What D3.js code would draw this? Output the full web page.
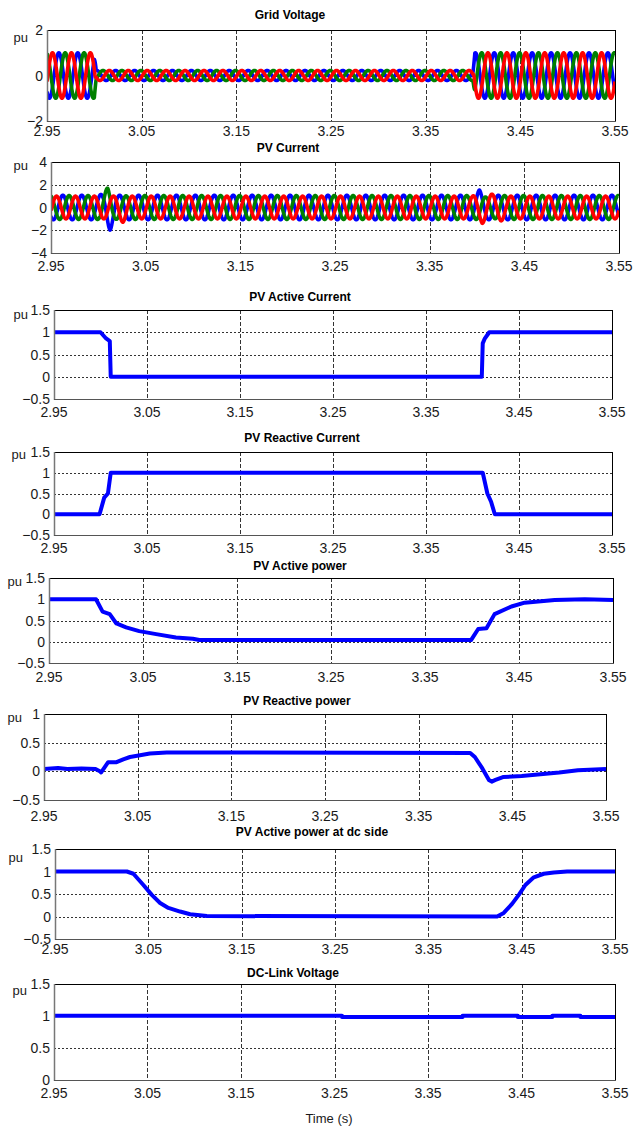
<!DOCTYPE html>
<html>
<head>
<meta charset="utf-8">
<title>PV LVRT response</title>
<script src="https://d3js.org/d3.v7.min.js"></script>
<style>
    body { margin: 0; background: #fff; }
    text { font-family: "Liberation Sans Narrow", "Liberation Sans", Arial, sans-serif; fill: #1a1a1a; }
    .tick-label { font-size: 14px; }
    .pu-label { font-size: 13px; }
    .title { font-size: 12px; font-weight: bold; fill: #000; }
</style>
</head>
<body>
<svg id="chart" width="641" height="1128"></svg>
<script>
// ---- data ----
const timeTicks = [2.95, 3.05, 3.15, 3.25, 3.35, 3.45, 3.55];
const freqHz = 50;
const phaseRad = [Math.PI / 4, -5 * Math.PI / 12, 11 * Math.PI / 12]; // a, b, c
const phaseColors = ["#0000ff", "#008000", "#ff0000"];

// grid voltage amplitude envelope (same for the three phases)
const gridVoltT   = [2.95, 3.000, 3.002, 3.400, 3.402, 3.55];
const gridVoltAmp = [1.0, 1.0, 0.22, 0.22, 1.0, 1.0];

// PV current amplitude envelope per phase
const pvCurT    = [2.95, 3.000, 3.005, 3.010, 3.0125, 3.016, 3.021, 3.026, 3.032, 3.395, 3.4025, 3.4055, 3.410, 3.420, 3.425, 3.430, 3.55];
const pvCurAmpA = [1.08, 1.08, 1.2, 1.8, 2.0, 1.5, 1.08, 1.08, 1.08, 1.08, 1.55, 1.3, 1.08, 1.08, 1.08, 1.08, 1.08];
const pvCurAmpB = [1.05, 1.05, 1.3, 1.75, 1.5, 1.1, 1.0, 1.0, 1.05, 1.05, 1.05, 1.0, 0.9, 1.0, 1.05, 1.05, 1.05];
const pvCurAmpC = [1.0, 1.0, 1.0, 1.0, 1.0, 1.0, 1.15, 1.3, 1.0, 1.0, 1.2, 1.4, 1.2, 1.15, 1.2, 1.0, 1.0];

const activeCurT = [2.95, 3.000, 3.006, 3.010, 3.011, 3.410, 3.411, 3.413, 3.418, 3.55];
const activeCurV = [1.0, 1.0, 0.86, 0.8, 0.0, 0.0, 0.75, 0.85, 1.0, 1.0];

const reactiveCurT = [2.95, 2.999, 3.004, 3.008, 3.011, 3.411, 3.413, 3.416, 3.420, 3.424, 3.55];
const reactiveCurV = [0.0, 0.0, 0.4, 0.5, 1.0, 1.0, 0.8, 0.5, 0.3, 0.0, 0.0];

const activePowT = [2.95, 3.000, 3.007, 3.0146, 3.0217, 3.032, 3.046, 3.064, 3.085, 3.103, 3.11, 3.399, 3.4066, 3.4154, 3.424, 3.442, 3.456, 3.488, 3.52, 3.55];
const activePowV = [1.0, 1.0, 0.71, 0.65, 0.43, 0.34, 0.25, 0.18, 0.10, 0.07, 0.04, 0.04, 0.30, 0.32, 0.65, 0.83, 0.92, 0.98, 1.0, 0.98];

const reactivePowT = [2.95, 2.965, 2.975, 2.99, 3.005, 3.0096, 3.011, 3.0185, 3.0275, 3.0346, 3.0418, 3.0525, 3.063, 3.081, 3.405, 3.410, 3.418, 3.425, 3.428, 3.432, 3.44, 3.46, 3.48, 3.50, 3.52, 3.55];
const reactivePowV = [0.04, 0.06, 0.04, 0.05, 0.04, 0.0, -0.02, 0.16, 0.16, 0.21, 0.25, 0.28, 0.31, 0.33, 0.32, 0.25, 0.05, -0.15, -0.18, -0.15, -0.10, -0.08, -0.05, -0.02, 0.02, 0.04];

const dcPowT = [2.95, 3.027, 3.034, 3.0447, 3.0537, 3.0626, 3.0715, 3.084, 3.0948, 3.1127, 3.4237, 3.4308, 3.4397, 3.4469, 3.454, 3.463, 3.4737, 3.4844, 3.4987, 3.55];
const dcPowV = [1.0, 1.0, 0.95, 0.70, 0.48, 0.30, 0.19, 0.11, 0.05, 0.01, 0.0, 0.08, 0.28, 0.48, 0.70, 0.87, 0.95, 0.98, 1.0, 1.0];

const dcVoltT = [2.95, 3.258, 3.258, 3.387, 3.387, 3.446, 3.446, 3.483, 3.483, 3.513, 3.513, 3.55];
const dcVoltV = [1.005, 1.005, 0.985, 0.985, 1.005, 1.005, 0.985, 0.985, 1.005, 1.005, 0.985, 0.985];

// ---- layout of the eight stacked axes ----
const panels = [
    { title: "Grid Voltage", box: [47, 30, 615, 121], yDomain: [-2, 2], yTicks: [-2, 0, 2], titleX: 290, titleY: 19, puX: 28, puY: 37, labGap: 15, kind: "abc", env: [gridVoltT, gridVoltAmp, gridVoltAmp, gridVoltAmp] },
    { title: "PV Current", box: [51, 162, 619, 253], yDomain: [-4, 4], yTicks: [-4, -2, 0, 2, 4], titleX: 288, titleY: 152, puX: 28, puY: 165, labGap: 18, kind: "abc", env: [pvCurT, pvCurAmpA, pvCurAmpB, pvCurAmpC] },
    { title: "PV Active Current", box: [54, 310, 612, 399], yDomain: [-0.5, 1.5], yTicks: [-0.5, 0, 0.5, 1, 1.5], titleX: 300, titleY: 301, puX: 28, puY: 314, labGap: 18, t: activeCurT, v: activeCurV },
    { title: "PV Reactive Current", box: [54, 452, 612, 535], yDomain: [-0.5, 1.5], yTicks: [-0.5, 0, 0.5, 1, 1.5], titleX: 302, titleY: 442, puX: 26, puY: 454, labGap: 18, t: reactiveCurT, v: reactiveCurV },
    { title: "PV Active power", box: [49, 578, 613, 663], yDomain: [-0.5, 1.5], yTicks: [-0.5, 0, 0.5, 1, 1.5], titleX: 300, titleY: 570, puX: 22, puY: 581, labGap: 19, t: activePowT, v: activePowV },
    { title: "PV Reactive power", box: [44, 714, 606, 800], yDomain: [-0.5, 1], yTicks: [-0.5, 0, 0.5, 1], titleX: 297, titleY: 705, puX: 22, puY: 717, labGap: 21, t: reactivePowT, v: reactivePowV },
    { title: "PV Active power at dc side", box: [55, 849, 615, 939], yDomain: [-0.5, 1.5], yTicks: [-0.5, 0, 0.5, 1, 1.5], titleX: 312, titleY: 836, puX: 23, puY: 857, labGap: 15, t: dcPowT, v: dcPowV },
    { title: "DC-Link Voltage", box: [54, 984, 615, 1080], yDomain: [0, 1.5], yTicks: [0, 0.5, 1, 1.5], titleX: 293, titleY: 977, puX: 27, puY: 990, labGap: 18, t: dcVoltT, v: dcVoltV }
];

const svg = d3.select("#chart");
const fmtX = d3.format(".2f");
const fmtY = d => d3.format("")(d);

panels.forEach((p, i) => {
    const [l, t, r, b] = p.box;
    const x = d3.scaleLinear().domain([2.95, 3.55]).range([l, r]);
    const y = d3.scaleLinear().domain(p.yDomain).range([b, t]);
    const g = svg.append("g");

    // clip for the data
    svg.append("clipPath").attr("id", "clip" + i)
        .append("rect").attr("x", l).attr("y", t).attr("width", r - l).attr("height", b - t);

    // grid lines
    g.selectAll(".vgrid").data(timeTicks.slice(1, -1)).join("line")
        .attr("x1", d => Math.round(x(d)) + 0.5).attr("x2", d => Math.round(x(d)) + 0.5)
        .attr("y1", t).attr("y2", b)
        .attr("stroke", "#333").attr("stroke-width", 1).attr("stroke-dasharray", "4,2");
    g.selectAll(".hgrid").data(p.yTicks.filter(v => v > p.yDomain[0] && v < p.yDomain[1])).join("line")
        .attr("x1", l).attr("x2", r)
        .attr("y1", d => Math.round(y(d)) + 0.5).attr("y2", d => Math.round(y(d)) + 0.5)
        .attr("stroke", "#333").attr("stroke-width", 1).attr("stroke-dasharray", "2,2");

    // data
    const data = g.append("g").attr("clip-path", `url(#clip${i})`);
    if (p.kind === "abc") {
        const [envT, ampA, ampB, ampC] = p.env;
        [ampA, ampB, ampC].forEach((amp, k) => {
            const env = d3.scaleLinear().domain(envT).range(amp);
            const pts = d3.range(2.95, 3.5501, 0.0002).map(tt => [tt, env(tt) * Math.sin(2 * Math.PI * freqHz * tt + phaseRad[k])]);
            data.append("path").datum(pts)
                .attr("fill", "none").attr("stroke", phaseColors[k]).attr("stroke-width", 3.6)
                .attr("stroke-linejoin", "round")
                .attr("d", d3.line().x(d => x(d[0])).y(d => y(d[1])));
        });
    } else {
        data.append("path").datum(d3.zip(p.t, p.v))
            .attr("fill", "none").attr("stroke", "#0000ff").attr("stroke-width", 4)
            .attr("stroke-linejoin", "round")
            .attr("d", d3.line().x(d => x(d[0])).y(d => y(d[1])));
    }

    // box
    g.append("rect").attr("x", l + 0.5).attr("y", t + 0.5).attr("width", r - l).attr("height", b - t)
        .attr("fill", "none").attr("stroke", "#000").attr("stroke-width", 1);
    g.append("line").attr("x1", l + 0.5).attr("x2", l + 0.5).attr("y1", t).attr("y2", b + 1)
        .attr("stroke", "#777").attr("stroke-width", 1.5);
    g.append("line").attr("x1", l).attr("x2", r + 1).attr("y1", b + 0.5).attr("y2", b + 0.5)
        .attr("stroke", "#555").attr("stroke-width", 1.2);

    // tick labels
    g.selectAll(".xl").data(timeTicks).join("text")
        .attr("class", "tick-label")
        .attr("x", d => x(d)).attr("y", b + p.labGap)
        .attr("text-anchor", "middle")
        .text(fmtX);
    g.selectAll(".yl").data(p.yTicks).join("text")
        .attr("class", "tick-label")
        .attr("x", l - 4).attr("y", d => y(d)).attr("dy", "0.36em")
        .attr("text-anchor", "end")
        .text(fmtY);

    g.append("text").attr("class", "pu-label")
        .attr("x", p.puX).attr("y", p.puY).attr("dy", "0.36em")
        .attr("text-anchor", "end").text("pu");

    g.append("text").attr("class", "title")
        .attr("x", p.titleX).attr("y", p.titleY)
        .attr("text-anchor", "middle").text(p.title);
});

svg.append("text").attr("class", "tick-label")
    .attr("x", 329).attr("y", 1123).attr("text-anchor", "middle")
    .style("font-size", "13px")
    .text("Time (s)");
</script>
</body>
</html>
